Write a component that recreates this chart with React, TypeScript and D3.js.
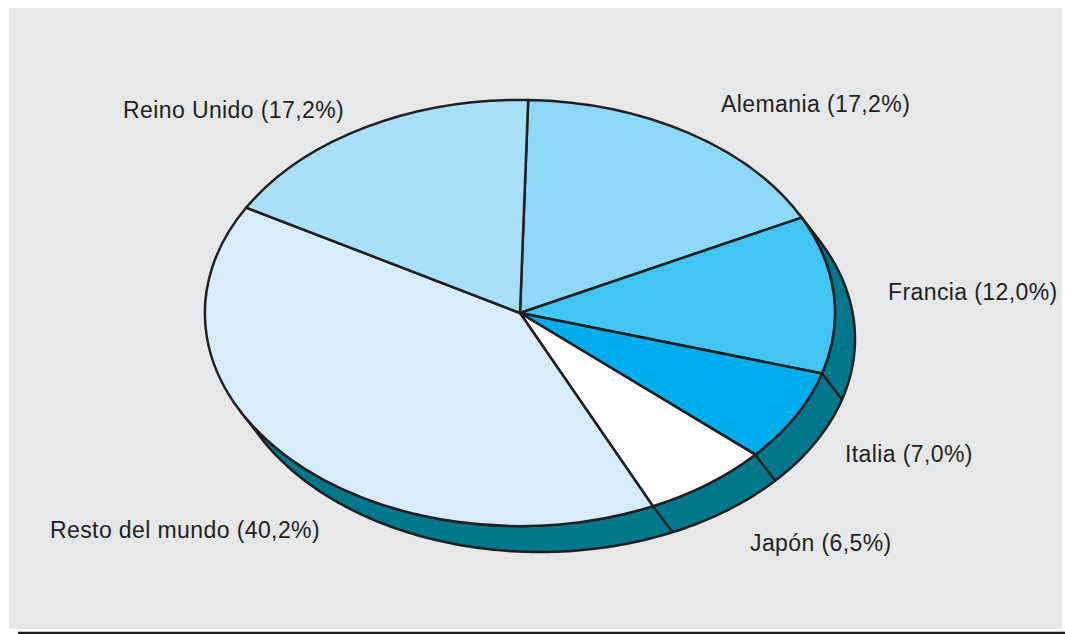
import React, { useEffect, useRef } from 'react';
import * as d3 from 'd3';

// slice order runs clockwise from the top
const countries = ['Alemania', 'Francia', 'Italia', 'Japón', 'Resto del mundo', 'Reino Unido'];
const shares = [17.2, 12.0, 7.0, 6.5, 40.2, 17.2];
const shareLabels = ['17,2%', '12,0%', '7,0%', '6,5%', '40,2%', '17,2%'];
const sliceColors = ['#8dd7f7', '#41c6f3', '#00adec', '#ffffff', '#d6edf9', '#a8e0f9'];
const labelPos: [number, number][] = [
  [721, 112],
  [888, 300],
  [845, 462],
  [750, 551],
  [50, 538],
  [123, 118],
];

const App: React.FC = () => {
  const svgRef = useRef<SVGSVGElement>(null);

  useEffect(() => {
    if (!svgRef.current) return;
    const svg = d3.select(svgRef.current);
    svg.selectAll('*').remove();

    const W = 1065;
    const H = 634;
    const cx = 520;
    const cy = 313;
    const rx = 315;
    const ry = 213;
    const offX = 20;
    const offY = 26;
    const ink = '#231f20';
    const sideColor = '#00778b';
    const sw = 2.5;

    // background panel
    svg.append('rect')
      .attr('x', 0).attr('y', 0).attr('width', W).attr('height', H)
      .attr('fill', '#ffffff');
    svg.append('rect')
      .attr('x', 9).attr('y', 8).attr('width', 1053).attr('height', 621)
      .attr('fill', '#e6e7e8');
    svg.append('line')
      .attr('x1', 18).attr('x2', W).attr('y1', 633).attr('y2', 633)
      .attr('stroke', ink).attr('stroke-width', 2.5);

    const data = countries.map((c, i) => ({ name: c, value: shares[i], label: shareLabels[i], color: sliceColors[i] }));

    const start = (1.5 * Math.PI) / 180;
    const pie = d3.pie<typeof data[0]>()
      .value(d => d.value)
      .sort(null)
      .startAngle(start)
      .endAngle(start + 2 * Math.PI);
    const arcs = pie(data);

    const pt = (a: number): [number, number] => [cx + rx * Math.sin(a), cy - ry * Math.cos(a)];

    // visible side of the extruded disc
    const t1 = Math.atan((offY * rx) / (offX * ry));
    const t2 = t1 + Math.PI;
    const steps = d3.range(0, 201).map(i => t1 + ((t2 - t1) * i) / 200);
    const topEdge = steps.map(pt);
    const bottomEdge = steps.slice().reverse().map(a => {
      const p = pt(a);
      return [p[0] + offX, p[1] + offY] as [number, number];
    });
    const line = d3.line();
    svg.append('path')
      .attr('d', line([...topEdge, ...bottomEdge])! + 'Z')
      .attr('fill', sideColor)
      .attr('stroke', ink)
      .attr('stroke-width', sw)
      .attr('stroke-linejoin', 'round');

    // slice edges on the side
    const bounds = arcs.map(a => a.endAngle).filter(a => a > t1 && a < t2);
    svg.append('g')
      .selectAll('line')
      .data(bounds)
      .join('line')
      .attr('x1', a => pt(a)[0])
      .attr('y1', a => pt(a)[1])
      .attr('x2', a => pt(a)[0] + offX)
      .attr('y2', a => pt(a)[1] + offY)
      .attr('stroke', ink)
      .attr('stroke-width', sw);

    // top face
    const arc = d3.arc<d3.PieArcDatum<typeof data[0]>>()
      .innerRadius(0)
      .outerRadius(1);
    svg.append('g')
      .attr('transform', `translate(${cx},${cy}) scale(${rx},${ry})`)
      .selectAll('path')
      .data(arcs)
      .join('path')
      .attr('d', d => arc(d)!)
      .attr('fill', d => d.data.color)
      .attr('stroke', ink)
      .attr('stroke-width', sw)
      .attr('stroke-linejoin', 'round')
      .attr('vector-effect', 'non-scaling-stroke');

    // labels
    svg.append('g')
      .selectAll('text')
      .data(data)
      .join('text')
      .attr('x', (d, i) => labelPos[i][0])
      .attr('y', (d, i) => labelPos[i][1])
      .attr('font-family', '"Liberation Sans", Arial, sans-serif')
      .attr('font-size', 23)
      .attr('letter-spacing', 0.4)
      .attr('fill', ink)
      .text(d => `${d.name} (${d.label})`);
  }, []);

  return (
    <svg
      ref={svgRef}
      width={1065}
      height={634}
      style={{ position: 'absolute', left: 0, top: 0, display: 'block' }}
    />
  );
};

export default App;
